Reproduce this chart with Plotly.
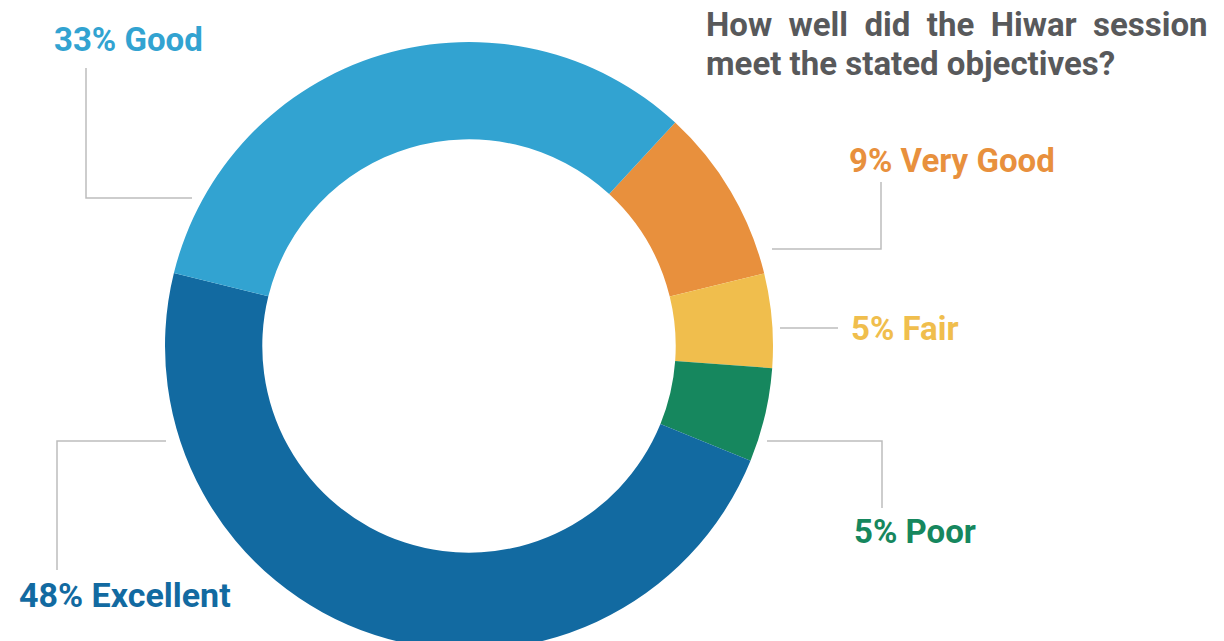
import plotly.graph_objects as go

# ---- data ----
categories = ["Very Good", "Fair", "Poor", "Excellent", "Good"]
values = [9.3, 5, 5, 47.7, 33]
colors = ["#E8903D", "#F0BE4D", "#16875E", "#126AA1", "#32A3D1"]
title_lines = ["How well did the Hiwar session", "meet the stated objectives?"]

W, H = 1224, 660
FONT = "Roboto"

def px(x):
    return x / W

def py(y):
    return 1 - y / H

fig = go.Figure()
fig.add_trace(go.Pie(
    labels=categories, values=values, sort=False, direction="clockwise",
    rotation=42.7, hole=0.68, textinfo="none", hoverinfo="label+percent",
    marker=dict(colors=colors, line=dict(width=0)),
    domain=dict(x=[px(165), px(773)], y=[py(652), py(40)]),
    showlegend=False,
))

# label placement (pixel positions of label centres) and leader paths
label_pos = {
    "Good": (128, 40, [(86, 68), (86, 198), (192, 198)]),
    "Very Good": (952, 160, [(881, 182), (881, 249), (772, 249)]),
    "Fair": (905, 328, [(780, 328), (838, 328)]),
    "Poor": (915, 531, [(882, 508), (882, 441), (767, 441)]),
    "Excellent": (125, 595, [(57, 570), (57, 441), (166, 441)]),
}

annotations = []
shapes = []
for cat, val, col in zip(categories, values, colors):
    cx, cy, path = label_pos[cat]
    annotations.append(dict(
        x=px(cx), y=py(cy), xref="paper", yref="paper", showarrow=False,
        xanchor="center", yanchor="middle",
        text=f"{round(val)}% {cat}",
        font=dict(family=FONT, size=33 if cat != "Excellent" else 34,
                  color=col, weight="bold"),
    ))
    d = "M " + " L ".join(f"{px(x)},{py(y)}" for x, y in path)
    shapes.append(dict(type="path", xref="paper", yref="paper", path=d,
                       line=dict(color="#BDBDBD", width=1.5)))

nb = "\u00a0"
line1 = (nb * 1 + " ").join(title_lines[0].split(" "))
for txt, cy in [(line1, 25), (title_lines[1], 63)]:
    annotations.append(dict(
        x=px(704), y=py(cy), xref="paper", yref="paper", showarrow=False,
        xanchor="left", yanchor="middle", align="left",
        text=txt,
        font=dict(family=FONT, size=33, color="#58595B", weight="bold"),
    ))

fig.update_layout(
    width=W, height=H,
    margin=dict(l=0, r=0, t=0, b=0),
    paper_bgcolor="white", plot_bgcolor="white",
    annotations=annotations, shapes=shapes,
)

fig.write_html("out.html", post_script="document.body.style.overflow='hidden';document.documentElement.style.overflow='hidden';")
